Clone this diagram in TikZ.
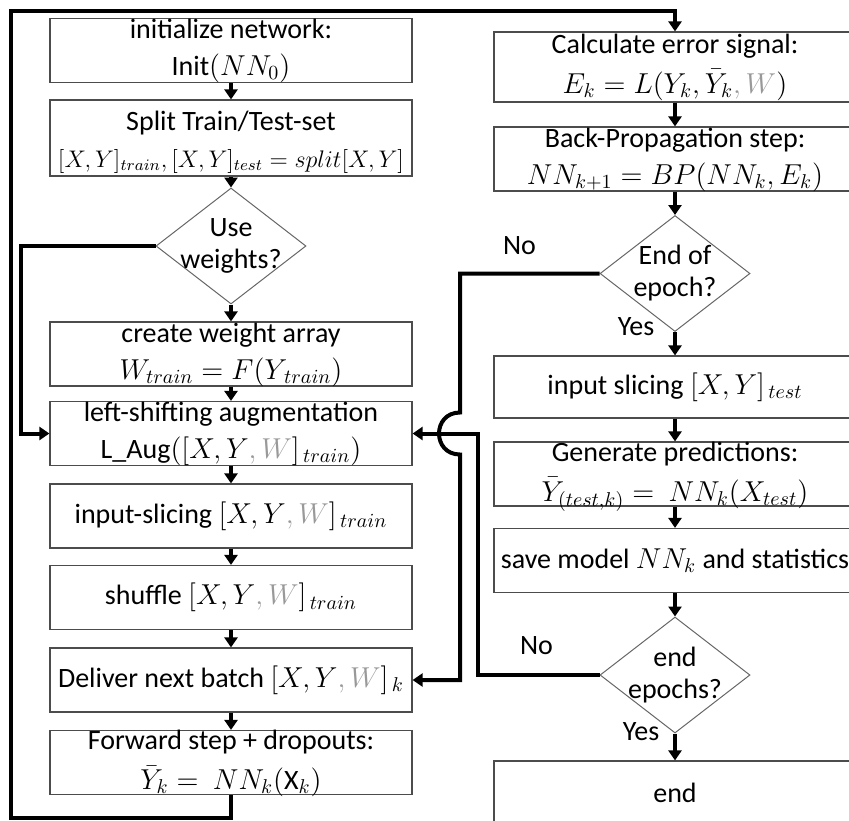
\documentclass[tikz,border=0pt]{standalone}
\usepackage{fontspec}
\setmainfont{Carlito}
\usepackage{tikz}
\usetikzlibrary{shapes.geometric, positioning, arrows.meta, calc}

\definecolor{wgray}{gray}{0.6}
\newcommand{\gw}{\textcolor{wgray}{,W}}

\tikzset{
  box/.style={draw=black!70, line width=0.6pt, minimum width=181pt, minimum height=32pt,
    inner sep=0pt, align=center},
  box2/.style={box, text height=28.5pt, text depth=3.5pt},
  barbox/.style={box, text height=29.5pt, text depth=2.5pt, font=\fontsize{14}{20}\selectfont},
  decision/.style={draw=black!60, line width=0.5pt, diamond, inner sep=0pt,
    minimum width=75pt, minimum height=58pt},
  dtext/.style={align=center, inner sep=0pt, font=\fontsize{14}{16}\selectfont},
  flow/.style={line width=2pt, -{Triangle[width=6.5pt,length=5pt]}},
  lbl/.style={inner sep=0pt}
}

\begin{document}
\begin{tikzpicture}[x=0.5pt,y=-0.5pt,on grid,font=\fontsize{14}{18.5}\selectfont]
\useasboundingbox (0,0) rectangle (849,820);

% training column
\node[box2] (init) at (231,50.5) {initialize network:\\ Init$(NN_0)$};
\node[box2, minimum height=38pt, text height=33.5pt, text depth=4.5pt, below=43.75pt of init] (split) {Split Train/Test-set\\
  {\fontsize{12}{14}\selectfont $[X,Y]_{train},[X,Y]_{test} = split[X,Y]$}};
\node[decision, below=54pt of split, label={[dtext]center:Use\\weights?}] (useW) {};
\node[box2, below=54pt of useW] (weights) {create weight array\\ $W_{train} = F(Y_{\,train})$};
\node[box2, below=39.75pt of weights] (lshift) {left-shifting augmentation\\ L\_Aug$([X,Y\gw]_{\,train})$};
\node[box, below=41.25pt of lshift] (islice) {input-slicing $[X,Y\gw]_{\,train}$};
\node[box, below=40.75pt of islice] (shuffle) {shuffle $[X,Y\gw]_{\,train}$};
\node[box, below=41.25pt of shuffle] (deliver) {Deliver next batch $[X,Y\gw]_{\,k}$};
\node[barbox, below=41.25pt of deliver] (fwd) {Forward step + dropouts:\\ $\bar{Y}_k =\ NN_k(\mathrm{X}_k)$};

% update / evaluation column
\node[barbox, minimum height=35pt, text height=30.5pt, text depth=4.5pt] (calc) at (675,67) {Calculate error signal:\\ $E_k = L(Y_k,\bar{Y}_k\gw)$};
\node[box2, below=46pt of calc] (bp) {Back-Propagation step:\\ $NN_{k+1} = BP(NN_k,E_k)$};
\node[decision, below=57.25pt of bp, label={[dtext]center:End of\\epoch?}] (eoe) {};
\node[box, minimum height=31pt, below=56.75pt of eoe] (test) {input slicing $[X,Y]_{\,test}$};
\node[barbox, below=43.5pt of test] (gen) {Generate predictions:\\ $\bar{Y}_{(test,k)} =\ NN_k(X_{test})$};
\node[box, below=43.25pt of gen] (save) {save model $NN_k$ and statistics};
\node[decision, below=57.25pt of save, label={[dtext]center:end\\epochs?}] (ee) {};
\node[box, below=59pt of ee] (end) {end};

\node[lbl] (no1) at ([xshift=-40pt,yshift=14pt]eoe.west) {No};
\node[lbl] (yes1) at ([xshift=-19.5pt,yshift=2.5pt]eoe.south) {Yes};
\node[lbl] (no2) at ([xshift=-31.5pt,yshift=14.5pt]ee.west) {No};
\node[lbl] (yes2) at ([xshift=-17pt,yshift=1pt]ee.south) {Yes};

\draw[flow] (init) -- (split);
\draw[flow] (split) -- (useW);
\draw[flow] (useW) -- (weights);
\draw[flow] (weights) -- (lshift);
\draw[flow] (lshift) -- (islice);
\draw[flow] (islice) -- (shuffle);
\draw[flow] (shuffle) -- (deliver);
\draw[flow] (deliver) -- (fwd);

\draw[flow] (calc) -- (bp);
\draw[flow] (bp) -- (eoe);
\draw[flow] (eoe) -- (test);
\draw[flow] (test) -- (gen);
\draw[flow] (gen) -- (save);
\draw[flow] (save) -- (ee);
\draw[flow] (ee) -- (end);

% no weights: skip straight to augmentation
\draw[flow] (useW.west) -- ++(-135,0) |- (lshift.west);

% big loop back to the error signal
\draw[flow] (fwd.south) -- ++(0,23) -| (11,11) -| (calc.north);

% next epoch
\draw[flow] (ee.west) -- ++(-122,0) |- (lshift.east);

% next batch, hopping over the epoch line
\coordinate (jx) at (460,0);
\draw[flow] (eoe.west) -| ($(lshift.east -| jx)+(0,-21)$)
  .. controls +(-28,0) and +(-28,0) .. ($(lshift.east -| jx)+(0,21)$) |- (deliver.east);
\end{tikzpicture}
\end{document}
